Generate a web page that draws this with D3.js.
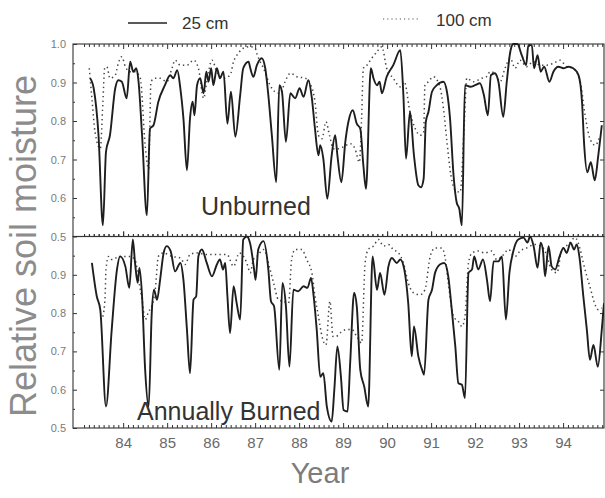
<!DOCTYPE html>
<html><head><meta charset="utf-8">
<script src="https://cdn.jsdelivr.net/npm/d3@7"></script>
<style>
html,body{margin:0;padding:0;background:#fff;}
svg{display:block;font-family:"Liberation Sans",Arial,Helvetica,sans-serif;}
</style></head>
<body>
<svg id="c" width="605" height="498"></svg>
<script>
// ---------- DATA (year in decimal, e.g. 84.5 = mid-1984; relative soil moisture) ----------
const yearTicks = [84,85,86,87,88,89,90,91,92,93,94];
const yTicksTop = [1.0,0.9,0.8,0.7,0.6,0.5];
const yTicksBottom = [0.9,0.8,0.7,0.6,0.5];
const seriesNames = ["25 cm","100 cm"];
const panelNames = ["Unburned","Annually Burned"];

// Unburned, 25 cm
const unb25T = [83.25,83.33,83.44,83.54,83.61,83.70,83.82,83.89,83.97,84.08,84.16,84.23,84.30,84.35,84.43,84.54,84.61,84.69,84.80,84.95,85.07,85.14,85.23,85.30,85.37,85.45,85.52,85.58,85.62,85.68,85.75,85.83,85.89,85.94,86.00,86.05,86.13,86.20,86.28,86.37,86.45,86.55,86.66,86.73,86.85,86.89,86.96,87.04,87.15,87.23,87.30,87.38,87.48,87.55,87.61,87.70,87.80,87.91,88.01,88.10,88.21,88.29,88.36,88.44,88.48,88.55,88.64,88.74,88.82,88.87,88.96,89.05,89.12,89.22,89.31,89.39,89.46,89.52,89.63,89.69,89.77,89.83,89.88,89.99,90.14,90.30,90.37,90.43,90.52,90.61,90.71,90.77,90.83,90.88,90.94,91.02,91.13,91.28,91.36,91.43,91.51,91.58,91.64,91.70,91.77,91.89,92.00,92.11,92.20,92.29,92.36,92.45,92.53,92.64,92.72,92.80,92.87,92.96,93.06,93.16,93.21,93.29,93.34,93.42,93.49,93.57,93.69,93.78,93.89,94.01,94.12,94.23,94.35,94.43,94.48,94.55,94.63,94.72,94.80,94.88];
const unb25V = [0.911,0.885,0.763,0.529,0.720,0.763,0.885,0.906,0.902,0.859,0.954,0.928,0.937,0.902,0.763,0.555,0.780,0.789,0.850,0.893,0.919,0.911,0.932,0.885,0.807,0.672,0.807,0.850,0.815,0.893,0.911,0.872,0.928,0.902,0.937,0.893,0.937,0.911,0.928,0.793,0.876,0.759,0.867,0.937,0.954,0.937,0.915,0.945,0.963,0.937,0.867,0.763,0.641,0.893,0.876,0.746,0.872,0.859,0.885,0.863,0.906,0.859,0.780,0.711,0.737,0.702,0.598,0.711,0.763,0.711,0.641,0.746,0.798,0.828,0.793,0.780,0.685,0.624,0.937,0.911,0.893,0.902,0.872,0.915,0.945,0.984,0.867,0.702,0.824,0.711,0.633,0.628,0.650,0.798,0.824,0.876,0.893,0.902,0.876,0.807,0.659,0.589,0.572,0.529,0.893,0.889,0.893,0.898,0.867,0.815,0.919,0.924,0.902,0.811,0.902,0.980,1.000,1.000,0.971,0.945,0.997,0.997,0.937,0.971,0.928,0.941,0.902,0.928,0.941,0.937,0.941,0.937,0.919,0.850,0.737,0.667,0.693,0.646,0.711,0.789];

// Unburned, 100 cm
const unb100T = [83.23,83.29,83.36,83.48,83.54,83.58,83.63,83.70,83.82,83.89,83.97,84.05,84.16,84.27,84.39,84.50,84.58,84.61,84.63,84.73,84.84,84.99,85.11,85.18,85.30,85.45,85.60,85.71,85.83,85.90,86.02,86.13,86.28,86.43,86.51,86.62,86.73,86.89,87.00,87.05,87.19,87.34,87.45,87.57,87.68,87.80,87.95,88.14,88.25,88.36,88.44,88.52,88.61,88.69,88.78,88.89,89.01,89.16,89.27,89.37,89.42,89.46,89.54,89.65,89.77,89.88,89.99,90.14,90.30,90.39,90.52,90.64,90.75,90.83,90.86,90.94,91.05,91.20,91.28,91.36,91.45,91.55,91.66,91.76,91.81,91.96,92.15,92.26,92.34,92.45,92.57,92.68,92.80,92.91,93.02,93.17,93.32,93.48,93.63,93.78,93.93,94.08,94.23,94.39,94.50,94.61,94.73,94.84];
const unb100V = [0.937,0.859,0.772,0.728,0.850,0.937,0.941,0.911,0.919,0.950,0.967,0.941,0.928,0.928,0.911,0.737,0.676,0.807,0.902,0.911,0.911,0.902,0.937,0.958,0.945,0.945,0.958,0.937,0.859,0.902,0.958,0.928,0.911,0.919,0.954,0.976,0.989,0.993,0.989,0.971,0.937,0.893,0.876,0.872,0.902,0.924,0.915,0.911,0.898,0.850,0.763,0.754,0.798,0.763,0.728,0.728,0.733,0.741,0.728,0.693,0.807,0.937,0.945,0.963,0.980,0.993,0.937,0.911,0.889,0.902,0.824,0.780,0.763,0.770,0.893,0.902,0.915,0.889,0.833,0.746,0.659,0.620,0.615,0.807,0.911,0.902,0.911,0.915,0.928,0.924,0.902,0.937,0.963,0.937,0.958,0.941,0.954,0.945,0.945,0.950,0.958,0.941,0.937,0.902,0.815,0.754,0.737,0.763];

// Annually burned, 25 cm
const bur25T = [83.29,83.40,83.48,83.61,83.74,83.86,83.93,84.05,84.14,84.22,84.27,84.33,84.37,84.43,84.50,84.58,84.65,84.70,84.77,84.84,84.92,84.99,85.08,85.18,85.30,85.37,85.45,85.52,85.60,85.66,85.71,85.79,85.90,86.02,86.13,86.20,86.27,86.32,86.37,86.43,86.51,86.58,86.66,86.73,86.81,86.89,86.97,87.01,87.07,87.19,87.30,87.36,87.43,87.55,87.62,87.70,87.78,87.87,87.98,88.10,88.19,88.27,88.33,88.40,88.48,88.55,88.63,88.74,88.80,88.87,88.95,89.01,89.10,89.16,89.25,89.31,89.39,89.48,89.57,89.67,89.77,89.84,89.94,90.03,90.11,90.22,90.30,90.39,90.48,90.56,90.61,90.71,90.80,90.84,90.94,91.02,91.09,91.20,91.30,91.39,91.47,91.55,91.62,91.70,91.77,91.85,91.93,91.98,92.07,92.18,92.27,92.34,92.42,92.53,92.61,92.70,92.78,92.87,92.98,93.10,93.19,93.25,93.33,93.42,93.49,93.54,93.59,93.67,93.74,93.82,93.92,94.01,94.08,94.17,94.25,94.31,94.37,94.46,94.54,94.61,94.69,94.79,94.88,94.93];
const bur25V = [0.931,0.844,0.809,0.556,0.757,0.914,0.948,0.922,0.866,0.992,0.931,0.879,0.918,0.844,0.652,0.556,0.800,0.861,0.835,0.887,0.957,0.975,0.962,0.909,0.931,0.887,0.757,0.643,0.835,0.844,0.948,0.966,0.931,0.896,0.927,0.940,0.914,0.931,0.844,0.748,0.870,0.826,0.783,0.992,1.000,0.980,0.920,0.887,0.966,0.988,0.914,0.831,0.818,0.652,0.879,0.818,0.660,0.861,0.857,0.870,0.866,0.892,0.844,0.757,0.634,0.643,0.556,0.517,0.600,0.713,0.634,0.547,0.543,0.669,0.853,0.818,0.652,0.608,0.556,0.948,0.861,0.905,0.848,0.922,0.944,0.931,0.940,0.914,0.826,0.687,0.765,0.687,0.650,0.639,0.835,0.861,0.905,0.927,0.931,0.896,0.809,0.713,0.617,0.613,0.578,0.905,0.914,0.948,0.914,0.940,0.887,0.831,0.935,0.935,0.948,0.783,0.905,0.962,0.992,0.997,0.984,1.000,0.975,0.918,0.984,0.966,0.896,0.975,0.922,0.914,0.948,0.970,0.957,0.984,0.966,0.979,0.948,0.844,0.757,0.678,0.717,0.660,0.757,0.826];

// Annually burned, 100 cm
const bur100T = [83.54,83.59,83.61,83.67,83.74,83.93,84.16,84.27,84.35,84.43,84.50,84.58,84.65,84.73,84.80,84.91,85.11,85.30,85.41,85.52,85.67,85.90,86.13,86.36,86.51,86.64,86.81,86.89,86.96,87.04,87.19,87.34,87.42,87.53,87.64,87.76,87.83,87.91,88.06,88.17,88.29,88.36,88.44,88.52,88.61,88.70,88.77,88.84,88.93,89.07,89.20,89.31,89.42,89.50,89.57,89.69,89.80,89.92,90.03,90.14,90.26,90.37,90.48,90.60,90.75,90.86,90.98,91.09,91.24,91.32,91.39,91.51,91.62,91.70,91.77,91.85,91.93,92.07,92.22,92.38,92.49,92.61,92.76,92.91,93.02,93.17,93.36,93.55,93.74,93.86,93.97,94.12,94.27,94.39,94.46,94.54,94.63,94.70,94.80,94.88];
const bur100V = [0.791,0.844,0.914,0.948,0.940,0.948,0.948,0.940,0.887,0.835,0.783,0.804,0.818,0.861,0.948,0.957,0.948,0.944,0.927,0.953,0.957,0.953,0.953,0.953,0.922,0.957,0.931,0.905,0.940,0.948,0.966,0.914,0.879,0.835,0.831,0.826,0.940,0.966,0.966,0.940,0.905,0.844,0.791,0.739,0.717,0.831,0.739,0.739,0.748,0.757,0.757,0.739,0.722,0.931,0.966,0.975,0.992,0.975,0.979,0.966,0.957,0.931,0.879,0.853,0.848,0.861,0.948,0.970,0.970,0.944,0.879,0.791,0.778,0.765,0.791,0.931,0.957,0.962,0.957,0.962,0.940,0.948,0.966,0.948,0.962,0.970,0.979,0.970,0.914,0.905,0.966,0.979,0.997,0.966,0.931,0.896,0.861,0.831,0.809,0.813];

// ---------- DRAWING ----------
const svg = d3.select("#c");
const left = 73, right = 604;
const x = d3.scaleLinear().domain([82.86, 94.93]).range([left, right]);
const panels = [
  {name: panelNames[0], top: 44, bottom: 236.5, s25: [unb25T, unb25V], s100: [unb100T, unb100V], labels: yTicksTop, textY: 215, textX: 201},
  {name: panelNames[1], top: 236.5, bottom: 428, s25: [bur25T, bur25V], s100: [bur100T, bur100V], labels: yTicksBottom, textY: 420, textX: 137}
];
const minorYears = [];
for (let y = 83; y <= 94.9; y += 1/9) { const v = Math.round(y*1000)/1000; if (v >= 82.9 && Math.abs(v - Math.round(v)) > 0.01) minorYears.push(v); }
const minorY = d3.range(0.55, 1.0, 0.1).map(v => Math.round(v*100)/100);
const line = d3.line().curve(d3.curveMonotoneX);

panels.forEach((p, i) => {
  const y = d3.scaleLinear().domain([0.5, 1.0]).range([p.bottom, p.top]);
  const g = svg.append("g");
  // clip
  const cid = "clip" + i;
  svg.append("clipPath").attr("id", cid).append("rect")
     .attr("x", left).attr("y", p.top - 1).attr("width", right - left).attr("height", p.bottom - p.top + 2);

  // Left axis
  const la = g.append("g").attr("transform", `translate(${left},0)`)
    .call(d3.axisLeft(y).tickValues(p.labels).tickFormat(d3.format(".1f")).tickSizeInner(-4).tickSizeOuter(0).tickPadding(7));
  la.select(".domain").remove();
  la.selectAll("line").attr("stroke", "#333");
  la.selectAll("text").attr("font-size", 11).attr("fill", "#7a7a7a");
  const lm = g.append("g").attr("transform", `translate(${left},0)`)
    .call(d3.axisLeft(y).tickValues(minorY).tickFormat("").tickSizeInner(-2).tickSizeOuter(0));
  lm.select(".domain").remove(); lm.selectAll("line").attr("stroke", "#333");
  // Right axis
  const ra = g.append("g").attr("transform", `translate(${right},0)`)
    .call(d3.axisRight(y).tickValues([0.6,0.7,0.8,0.9]).tickFormat("").tickSizeInner(-4).tickSizeOuter(0));
  ra.select(".domain").remove(); ra.selectAll("line").attr("stroke", "#333");

  // Top ticks (inward)
  const topMajor = d3.axisTop(x).tickValues(yearTicks).tickFormat("").tickSizeOuter(0);
  const topMinor = d3.axisTop(x).tickValues(minorYears).tickFormat("").tickSizeOuter(0);
  const ta = g.append("g").attr("transform", `translate(0,${p.top})`).call(topMajor.tickSizeInner(i === 0 ? -5 : 5));
  const tm = g.append("g").attr("transform", `translate(0,${p.top})`).call(topMinor.tickSizeInner(i === 0 ? -3 : 2.5));
  [ta, tm].forEach(a => { a.select(".domain").remove(); a.selectAll("line").attr("stroke", "#333"); });
  // Bottom ticks (inward)
  const ba = g.append("g").attr("transform", `translate(0,${p.bottom})`)
    .call(d3.axisBottom(x).tickValues(yearTicks).tickFormat(i === 1 ? (d => d) : "").tickSizeInner(-5).tickSizeOuter(0).tickPadding(9));
  const bm = g.append("g").attr("transform", `translate(0,${p.bottom})`)
    .call(d3.axisBottom(x).tickValues(minorYears).tickFormat("").tickSizeInner(i === 1 ? -3 : -2.5).tickSizeOuter(0));
  [ba, bm].forEach(a => { a.select(".domain").remove(); a.selectAll("line").attr("stroke", "#333"); });
  ba.selectAll("text").attr("font-size", 15).attr("fill", "#6a6a6a");

  // Frame
  g.append("rect").attr("x", left).attr("y", p.top).attr("width", right - left).attr("height", p.bottom - p.top)
    .attr("fill", "none").attr("stroke", "#333").attr("stroke-width", 1.1);

  // Series
  const d100 = p.s100[0].map((t, k) => [x(t), y(p.s100[1][k])]);
  const d25 = p.s25[0].map((t, k) => [x(t), y(p.s25[1][k])]);
  const sg = g.append("g").attr("clip-path", `url(#${cid})`);
  sg.append("path").attr("d", line(d100)).attr("fill", "none").attr("stroke", "#444")
    .attr("stroke-width", 1.5).attr("stroke-dasharray", "1.4,3.2");
  sg.append("path").attr("d", line(d25)).attr("fill", "none").attr("stroke", "#1e1e1e")
    .attr("stroke-width", 1.9).attr("stroke-linejoin", "round");

  // Panel label
  g.append("text").attr("x", p.textX).attr("y", p.textY).attr("font-size", 25).attr("fill", "#333").text(p.name);
});

// Legend
svg.append("line").attr("x1", 128).attr("x2", 167).attr("y1", 23).attr("y2", 23).attr("stroke", "#222").attr("stroke-width", 1.5);
svg.append("text").attr("x", 182).attr("y", 29).attr("font-size", 17).attr("fill", "#333").text(seriesNames[0]);
svg.append("line").attr("x1", 383).attr("x2", 419).attr("y1", 19).attr("y2", 19).attr("stroke", "#555").attr("stroke-width", 1.2).attr("stroke-dasharray", "1.2,3");
svg.append("text").attr("x", 436).attr("y", 26).attr("font-size", 17).attr("fill", "#333").text(seriesNames[1]);

// Axis titles
svg.append("text").attr("transform", "translate(36,246) rotate(-90)").attr("text-anchor", "middle")
  .attr("font-size", 36).attr("fill", "#8c8c8c").text("Relative soil moisture");
svg.append("text").attr("x", 320).attr("y", 483).attr("text-anchor", "middle")
  .attr("font-size", 29).attr("fill", "#7c7c7c").text("Year");
</script>
</body></html>
